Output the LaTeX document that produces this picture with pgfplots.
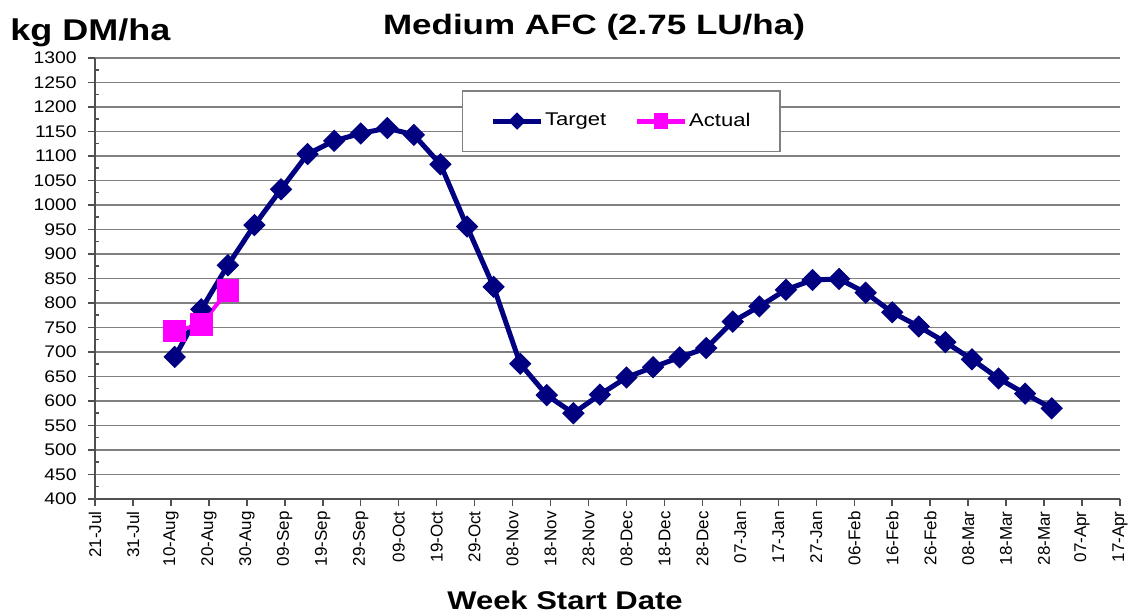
\documentclass[border=0pt]{standalone}
\usepackage{fontspec}
\setmainfont{Liberation Sans}
\usepackage{graphicx}
\usepackage{pgfplots}
\pgfplotsset{compat=1.18}
\definecolor{navyc}{RGB}{0,0,128}
\definecolor{magc}{RGB}{255,0,255}
\definecolor{gridc}{RGB}{128,128,128}
\definecolor{axc}{RGB}{80,80,80}

\pgfplotstableread{
day value
21 690
28 787
35 877
42 959
49 1032
56 1104
63 1131
70 1146
77 1157
84 1143
91 1083
98 956
105 833
112 676
119 612
126 575
133 613
140 648
147 669
154 689
161 708
168 762
175 793
182 827
189 847
196 849
203 821
210 781
217 752
224 720
231 685
238 646
245 615
252 585
}\targettab

\pgfplotstableread{
day value
21 743
28 756
35 826
}\actualtab

\begin{document}
\begin{tikzpicture}
\begin{axis}[
  at={(0,0)}, anchor=south west,
  scale only axis, width=512.5pt, height=220.5pt,
  xmin=0, xmax=270, ymin=400, ymax=1300,
  axis x line=bottom, axis y line=left,
  axis line style={-, draw=axc, line width=0.9pt},
  xtick={0,10,...,270},
  xticklabels={21-Jul,31-Jul,10-Aug,20-Aug,30-Aug,09-Sep,19-Sep,29-Sep,09-Oct,19-Oct,29-Oct,08-Nov,18-Nov,28-Nov,08-Dec,18-Dec,28-Dec,07-Jan,17-Jan,27-Jan,06-Feb,16-Feb,26-Feb,08-Mar,18-Mar,28-Mar,07-Apr,17-Apr},
  ytick={400,450,...,1300},
  minor y tick num=1,
  tick align=outside,
  major tick length=3.5pt,
  minor tick length=-2pt,
  tick style={draw=axc, line width=0.75pt},
  ymajorgrids,
  major grid style={draw=gridc, line width=0.75pt},
  /pgf/number format/1000 sep={},
  /pgf/number format/assume math mode=true,
  yticklabel={\scalebox{1.15}[1]{\pgfmathprintnumber{\tick}}},
  yticklabel style={anchor=east, inner xsep=0pt, font=\fontsize{8.4}{10}\selectfont},
  xticklabel style={rotate=90, anchor=east, inner xsep=0pt, font=\fontsize{8.5}{10}\selectfont},
  xticklabel shift=2.5pt,
  yticklabel shift=5.5pt,
  legend columns=2,
  legend style={at={(0.358,0.927)}, anchor=north west, draw=gridc, line width=0.75pt, fill=white,
    font=\fontsize{9.2}{10}\selectfont, inner xsep=14pt, inner ysep=9pt,
    nodes={inner xsep=0.75pt, inner ysep=2pt},
    /tikz/every even column/.append style={column sep=13.5pt}},
  legend cell align=left,
]
\addplot[navyc, line width=2.5pt, mark=square*, mark size=3.7pt,
  mark options={rotate=45, solid, line width=0.5pt},
  legend image code/.code={\draw[navyc, line width=2.4pt] (0pt,0pt) -- (24pt,0pt);
    \fill[navyc] (12pt,2.6pt) -- (14.6pt,0pt) -- (12pt,-2.6pt) -- (9.4pt,0pt) -- cycle;}]
  table[x=day, y=value] {\targettab};
\addlegendentry{\scalebox{1.2}[1]{Target}}
\addplot[magc, line width=2pt, mark=square*, mark size=5.4pt,
  mark options={solid, line width=0.5pt},
  legend image code/.code={\draw[magc, line width=2.4pt] (0pt,0pt) -- (24pt,0pt);
    \fill[magc] (9.5pt,-3pt) rectangle (14.5pt,3pt);}]
  table[x=day, y=value] {\actualtab};
\addlegendentry{\scalebox{1.2}[1]{Actual}}
\end{axis}
\node[anchor=base, font=\bfseries\fontsize{14}{16}\selectfont] at (249.5pt,232pt) {\scalebox{1.25}[1]{Medium AFC (2.75 LU/ha)}};
\node[anchor=base west, inner sep=0pt, font=\bfseries\fontsize{15}{17}\selectfont] at (-42.5pt,229.2pt) {\scalebox{1.2}[1]{kg DM/ha}};
\node[anchor=base, inner sep=0pt, font=\bfseries\fontsize{12.8}{15}\selectfont] at (235pt,-55.5pt) {\scalebox{1.21}[1]{Week Start Date}};
\pgfresetboundingbox
\path[use as bounding box] (-47.5pt,-57.5pt) rectangle (520.5pt,249.5pt);
\end{tikzpicture}
\end{document}
